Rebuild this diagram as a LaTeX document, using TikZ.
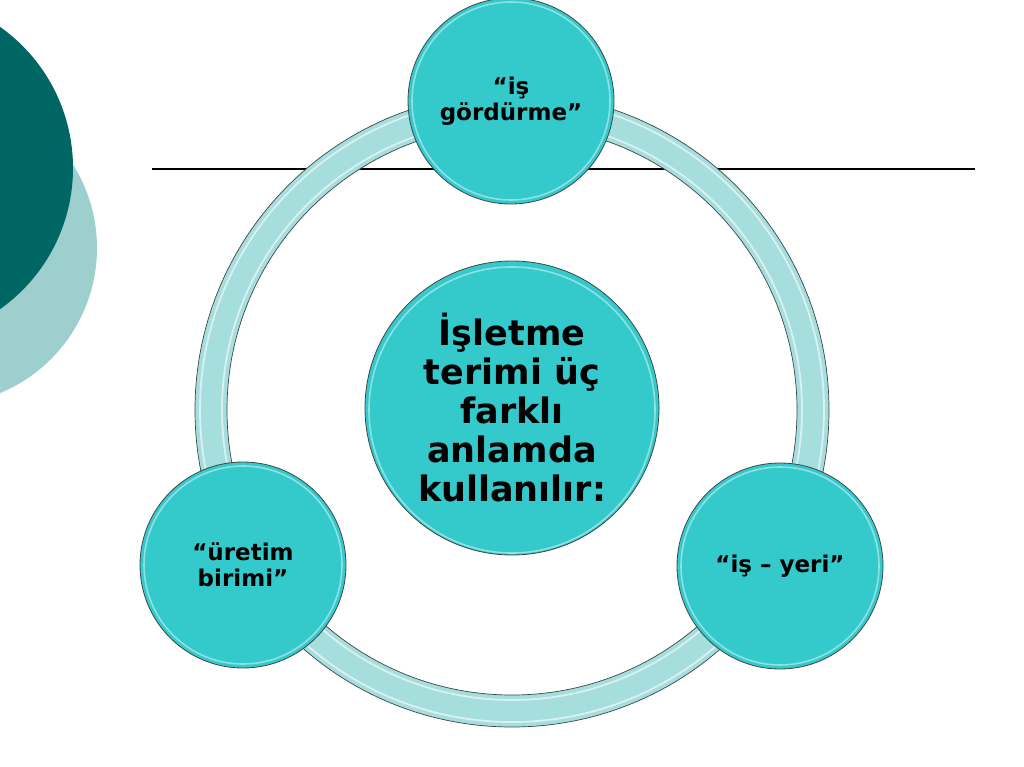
\documentclass[tikz,border=0pt]{standalone}
\usepackage{fontspec}
\setmainfont{DejaVu Sans}
\definecolor{deepteal}{RGB}{0, 102, 99}
\definecolor{paleteal}{RGB}{158, 207, 207}
\definecolor{ringteal}{RGB}{166, 221, 221}
\definecolor{bubblefill}{RGB}{52, 201, 203}
\definecolor{rim}{RGB}{60, 70, 70}
\usetikzlibrary{positioning}

\begin{document}
\begin{tikzpicture}[x=1pt, y=-1pt,
    termnode/.style={circle, draw=rim, line width=0.8pt, fill=bubblefill, align=center, inner sep=0pt, minimum size=206pt, font=\bfseries\fontsize{23}{26}\selectfont},
    hubnode/.style={termnode, minimum size=294pt, font=\bfseries\fontsize{35}{39}\selectfont},
    glint/.style={draw=white, opacity=0.45, line width=1.6pt}]
    \useasboundingbox (0,0) rectangle (1024,767);
    % slide corner
    \fill[paleteal] (-60,248) circle (157pt);
    \fill[deepteal] (-100,168) circle (173pt);
    \draw[line width=1.3pt] (152,169) -- (975,169);
    % ring
    \path[fill=ringteal, even odd rule, draw=rim, line width=0.7pt] (512,410) circle (317pt) (512,410) circle (285pt);
    \draw[white, opacity=0.6, line width=1.8pt] (512,410) circle (312pt) (512,410) circle (290pt);
    % circles
    \node[hubnode] (hub) at (512,408) {İşletme\\terimi üç\\farklı\\anlamda\\kullanılır:};
    \node[termnode] (work) at (511,101) {“iş\\gördürme”};
    \node[termnode] (unit) at (243,565) {“üretim\\birimi”};
    \node[termnode] (site) at (780,566) {“iş – yeri”};
    \foreach \n/\r in {work/99pt, unit/99pt, site/99pt}
        \draw[glint] (\n.center) circle (\r);
    \draw[glint] (512,410) circle (143pt);
\end{tikzpicture}
\end{document}
